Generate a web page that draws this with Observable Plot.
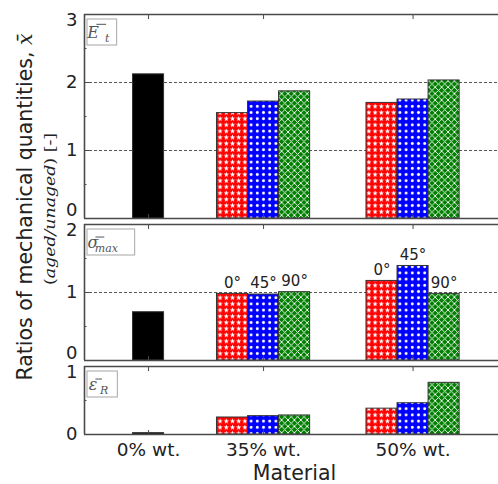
<!DOCTYPE html>
<html>
<head>
<meta charset="utf-8">
<script src="https://cdn.jsdelivr.net/npm/d3@7"></script>
<script src="https://cdn.jsdelivr.net/npm/@observablehq/plot@0.6"></script>
<style>
  html, body { margin: 0; padding: 0; background: #fff; overflow: hidden; }
  #chart { position: relative; width: 498px; height: 484px; overflow: hidden; font-family: "DejaVu Sans", sans-serif; }
  #chart svg.panel { position: absolute; left: 0; }
</style>
</head>
<body>
<div id="chart">
  <svg width="0" height="0" style="position:absolute">
    <defs>
      <pattern id="hatch-stars" patternUnits="userSpaceOnUse" width="6.2" height="6.2">
        <rect width="6.2" height="6.2" fill="#ff0000"/>
        <polygon fill="#fff" points="3.1,0.4 3.8,2.25 5.75,2.3 4.2,3.5 4.75,5.45 3.1,4.35 1.45,5.45 2,3.5 0.45,2.3 2.4,2.25"/>
      </pattern>
      <pattern id="hatch-dots" patternUnits="userSpaceOnUse" width="6.2" height="6.2">
        <rect width="6.2" height="6.2" fill="#0000ff"/>
        <circle cx="3.1" cy="3.1" r="1.45" fill="#fff"/>
      </pattern>
      <pattern id="hatch-cross" patternUnits="userSpaceOnUse" width="6.4" height="6.4">
        <rect width="6.4" height="6.4" fill="#007f00"/>
        <path d="M0,0L6.4,6.4M6.4,0L0,6.4M-1,5.4L1,7.4M5.4,-1L7.4,1M-1,1L1,-1M5.4,7.4L7.4,5.4" stroke="#fff" stroke-width="0.9" fill="none"/>
      </pattern>
    </defs>
  </svg>
</div>
<script>
// Material categories along the x axis and their axis positions
const materials = ["0% wt.", "35% wt.", "50% wt."];
const materialPos = [0, 1, 2.3];
// Fibre orientations of the reinforced materials
const orientations = ["0°", "45°", "90°"];

// Aged/unaged ratios. Neat resin (0% wt.) has one value; the others are [0°, 45°, 90°]
const modulusNeat = 2.12;
const modulus35 = [1.55, 1.72, 1.87];
const modulus50 = [1.70, 1.75, 2.03];

const strengthNeat = 0.71;
const strength35 = [0.98, 0.97, 1.005];
const strength50 = [1.17, 1.39, 0.98];

const strainNeat = 0.02;
const strain35 = [0.25, 0.27, 0.28];
const strain50 = [0.38, 0.46, 0.76];

// Axis ticks of each panel
const modulusTicks = [0, 1, 2, 3];
const strengthTicks = [0, 1, 2];
const strainTicks = [0, 1];

const fills = ["url(#hatch-stars)", "url(#hatch-dots)", "url(#hatch-cross)"];
const barW = 0.27;
const xDomain = [-0.557, 3.043];
const pxPerUnit = 68;
const panelGap = 6;
const firstTop = 14;
const ink = "#222";
const frameColor = "#4a4a4a";

// symbol: main glyph, subscript, and whether the bar sits over a capital
const panels = [
  {neat: modulusNeat, groups: [modulus35, modulus50], ticks: modulusTicks, grid: [1, 2],
   symbol: {main: "E", sub: "t", cap: true}, bottomShift: -8, angleLabels: false, xLabels: false},
  {neat: strengthNeat, groups: [strength35, strength50], ticks: strengthTicks, grid: [1],
   symbol: {main: "\u03C3", sub: "max", cap: false}, bottomShift: -7, angleLabels: true, xLabels: false},
  {neat: strainNeat, groups: [strain35, strain50], ticks: strainTicks, grid: [],
   symbol: {main: "\u03B5", sub: "R", cap: false}, bottomShift: 0, angleLabels: false, xLabels: true}
];

function buildRows(p) {
  const rows = [{material: materials[0], pos: materialPos[0], k: -1, value: p.neat}];
  p.groups.forEach((vals, g) => vals.forEach((v, k) => rows.push({
    material: materials[g + 1], pos: materialPos[g + 1], k, value: v, orientation: orientations[k]
  })));
  return rows;
}
const center = d => d.pos + (d.k < 0 ? 0 : (d.k - 1) * barW);
const left = d => center(d) - barW / 2;
const right = d => center(d) + barW / 2;

const chart = document.getElementById("chart");
let panelTop = firstTop;

panels.forEach(p => {
  const yMax = p.ticks[p.ticks.length - 1];
  const innerH = yMax * pxPerUnit;
  const padTop = 10;
  const padBottom = p.xLabels ? 50 : 10;
  const rows = buildRows(p);
  const minor = d3.range(0.5, yMax, 1);
  const tickText = {frameAnchor: "left", lineAnchor: "middle", y: d => d, text: d => String(d), dx: -7, textAnchor: "end", fontSize: 18, fill: ink};

  const marks = [
    Plot.ruleY(p.grid, {stroke: "#444", strokeWidth: 0.9, strokeDasharray: "3,2"}),
    Plot.rectY(rows.filter(d => d.k < 0), {x1: left, x2: right, y1: 0, y2: "value", fill: "black", stroke: "#333", strokeWidth: 1}),
    ...fills.map((f, k) => Plot.rectY(rows.filter(d => d.k === k), {x1: left, x2: right, y1: 0, y2: "value", fill: f, stroke: "#333", strokeWidth: 1})),
    // inward ticks
    Plot.axisY({ticks: p.ticks, tickSize: 5, dx: 5, tickFormat: () => "", stroke: frameColor, label: null}),
    Plot.axisY({ticks: minor, tickSize: 2.5, dx: 2.5, tickFormat: () => "", stroke: frameColor, label: null}),
    Plot.axisX({anchor: "top", ticks: materialPos, tickSize: 4, dy: 4, tickFormat: () => "", stroke: frameColor, label: null}),
    Plot.axisX({anchor: "bottom", ticks: materialPos, tickSize: 4, dy: -4, tickFormat: () => "", stroke: frameColor, label: null}),
    // frame (left, bottom, top)
    Plot.ruleY([0, yMax], {stroke: frameColor, strokeWidth: 1.6}),
    Plot.ruleX([xDomain[0]], {stroke: frameColor, strokeWidth: 1.6}),
    // tick labels
    Plot.text(p.ticks.filter(t => t > 0 && t < yMax), tickText),
    Plot.text([yMax], {...tickText, dy: 6}),
    Plot.text([0], {...tickText, dy: p.bottomShift})
  ];
  if (p.angleLabels) {
    marks.push(Plot.text(rows.filter(d => d.k >= 0), {x: center, y: "value", text: "orientation", dy: -11, fontSize: 15, fill: ink}));
  }
  if (p.xLabels) {
    marks.push(Plot.text(materials, {x: (d, i) => materialPos[i], frameAnchor: "bottom", lineAnchor: "middle", text: d => d, dy: 16, fontSize: 18.5, fill: ink}));
    marks.push(Plot.text(["Material"], {frameAnchor: "bottom", lineAnchor: "middle", text: d => d, dy: 39, dx: 3, fontSize: 20.5, fill: ink}));
  }

  const svg = Plot.plot({
    width: 498,
    height: padTop + innerH + padBottom,
    marginLeft: 84,
    marginRight: 0,
    marginTop: padTop,
    marginBottom: padBottom,
    x: {type: "linear", domain: xDomain, axis: null},
    y: {domain: [0, yMax], axis: null},
    style: {background: "transparent", overflow: "visible", fontFamily: "DejaVu Sans"},
    marks
  });
  svg.classList.add("panel");
  svg.style.top = (panelTop - padTop) + "px";
  chart.appendChild(svg);

  // quantity symbol in a box in the upper-left corner
  const fs = 16;
  const g = d3.select(svg).append("g").attr("transform", `translate(87,${padTop + 5})`);
  const box = g.append("rect");
  const main = g.append("text")
    .attr("font-family", "DejaVu Serif").attr("font-style", "italic")
    .attr("font-size", fs).attr("fill", "#555").attr("x", 6).attr("y", 19)
    .text(p.symbol.main);
  const mainW = main.node().getComputedTextLength();
  const subX = 6 + mainW + 2.5;
  const sub = g.append("text")
    .attr("font-family", "DejaVu Serif").attr("font-style", "italic")
    .attr("font-size", 11).attr("fill", "#555").attr("x", subX).attr("y", 23)
    .text(p.symbol.sub);
  const subW = sub.node().getComputedTextLength();
  const barY = 19 - (p.symbol.cap ? 0.73 : 0.56) * fs - 2;
  const slant = p.symbol.cap ? 2.4 : 1.4;
  g.append("line")
    .attr("x1", 6 + slant + 1).attr("x2", 6 + slant + mainW - 1)
    .attr("y1", barY).attr("y2", barY)
    .attr("stroke", "#555").attr("stroke-width", 1);
  box.attr("x", 0).attr("y", 0)
    .attr("width", subX + subW + 5).attr("height", 26)
    .attr("fill", "white").attr("stroke", "#b5b5b5").attr("stroke-width", 1.2);

  panelTop += innerH + panelGap;
});

// shared y-axis title
const overlay = d3.select(chart).append("svg")
  .attr("width", 498).attr("height", 484)
  .style("position", "absolute").style("left", 0).style("top", 0).style("pointer-events", "none");
const l1 = overlay.append("text")
  .attr("transform", "translate(32,207) rotate(-90)")
  .attr("text-anchor", "middle").attr("font-family", "DejaVu Sans").attr("font-size", 20.5).attr("fill", ink);
l1.append("tspan").text("Ratios of mechanical quantities, ");
l1.append("tspan").attr("font-family", "DejaVu Serif").attr("font-style", "italic").text("x\u0304");
const l2 = overlay.append("text")
  .attr("transform", "translate(55,209) rotate(-90)")
  .attr("text-anchor", "middle").attr("font-family", "DejaVu Serif").attr("font-size", 15.5).attr("fill", ink)
  .attr("textLength", 152).attr("lengthAdjust", "spacingAndGlyphs");
l2.append("tspan").text("(");
l2.append("tspan").attr("font-style", "italic").text("aged/unaged");
l2.append("tspan").text(") [-]");
</script>
</body>
</html>
